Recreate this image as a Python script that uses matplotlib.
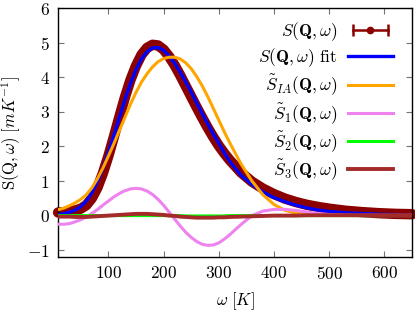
import matplotlib
matplotlib.use("Agg")
import matplotlib.pyplot as plt
from matplotlib.lines import Line2D
from matplotlib.legend_handler import HandlerLine2D, HandlerTuple

plt.rcParams['font.family'] = 'serif'
plt.rcParams['font.serif'] = ['cmr10']
plt.rcParams['mathtext.fontset'] = 'cm'
plt.rcParams['axes.formatter.use_mathtext'] = True

# energy grid [K]
omega = [9, 20, 30, 40, 50, 60, 70, 80, 90, 100, 110, 120, 130, 140, 150, 160, 170, 180, 190, 200,
         210, 220, 230, 240, 250, 260, 270, 280, 290, 300, 310, 320, 340, 360, 380, 400, 420, 440,
         460, 480, 500, 530, 560, 590, 620, 650]

# measured S(Q,w)
s_data = [0.09, 0.10, 0.12, 0.15, 0.20, 0.30, 0.50, 0.80, 1.22, 1.72, 2.28, 2.86, 3.42, 3.92, 4.33, 4.65, 4.85, 4.94, 4.92, 4.80,
          4.60, 4.35, 4.06, 3.75, 3.44, 3.13, 2.83, 2.54, 2.27, 2.02, 1.80, 1.60, 1.25, 0.98, 0.78, 0.62, 0.49, 0.39,
          0.31, 0.25, 0.20, 0.14, 0.10, 0.07, 0.05, 0.04]
s_err = [0.05, 0.05, 0.05, 0.05, 0.05, 0.05, 0.05, 0.05, 0.06, 0.06, 0.06, 0.06, 0.07, 0.07, 0.07, 0.07, 0.07, 0.07, 0.07, 0.07,
         0.07, 0.07, 0.07, 0.06, 0.06, 0.06, 0.06, 0.06, 0.06, 0.05, 0.05, 0.05, 0.05, 0.05, 0.05, 0.04, 0.04, 0.04,
         0.04, 0.04, 0.04, 0.04, 0.04, 0.04, 0.04, 0.04]

# fit
s_fit = [0.03, 0.06, 0.10, 0.16, 0.26, 0.42, 0.66, 0.98, 1.36, 1.82, 2.32, 2.84, 3.35, 3.82, 4.22, 4.53, 4.74, 4.85, 4.86, 4.78,
         4.62, 4.41, 4.15, 3.87, 3.57, 3.26, 2.95, 2.65, 2.36, 2.09, 1.81, 1.56, 1.17, 0.90, 0.68, 0.52, 0.40, 0.30,
         0.22, 0.16, 0.12, 0.08, 0.06, 0.04, 0.03, 0.02]

# impulse approximation
s_ia = [0.17, 0.22, 0.29, 0.37, 0.47, 0.60, 0.80, 1.06, 1.37, 1.72, 2.08, 2.46, 2.84, 3.22, 3.56, 3.86, 4.10, 4.30, 4.45, 4.54,
        4.58, 4.58, 4.53, 4.42, 4.25, 4.02, 3.75, 3.44, 3.10, 2.76, 2.42, 2.10, 1.50, 1.00, 0.60, 0.32, 0.15, 0.07,
        0.04, 0.02, 0.02, 0.01, 0.01, 0.01, 0.01, 0.01]

# corrections
s_1 = [-0.25, -0.25, -0.23, -0.18, -0.12, -0.04, 0.06, 0.17, 0.30, 0.42, 0.54, 0.64, 0.72, 0.77, 0.79, 0.77, 0.71, 0.61, 0.47, 0.30,
       0.10, -0.10, -0.30, -0.48, -0.63, -0.75, -0.83, -0.86, -0.85, -0.79, -0.68, -0.55, -0.26, 0.00, 0.13, 0.18, 0.18, 0.15,
       0.10, 0.06, 0.03, 0.01, 0.00, 0.00, 0.00, 0.00]
s_2 = [0.00, 0.00, 0.00, 0.00, 0.00, 0.00, 0.00, 0.00, 0.00, 0.00, 0.00, 0.00, 0.00, 0.00, 0.00, 0.00, 0.00, 0.00, 0.00, 0.00,
       0.00, 0.00, 0.00, -0.01, -0.01, -0.01, -0.01, -0.01, -0.01, -0.01, -0.01, 0.00, 0.00, 0.00, 0.00, 0.00, 0.00, 0.00,
       0.00, 0.00, 0.00, 0.00, 0.00, 0.00, 0.00, 0.00]
s_3 = [-0.03, -0.03, -0.03, -0.04, -0.04, -0.04, -0.03, -0.02, -0.01, 0.00, 0.01, 0.02, 0.03, 0.04, 0.05, 0.05, 0.05, 0.04, 0.03, 0.02,
       0.00, -0.01, -0.03, -0.04, -0.05, -0.06, -0.06, -0.06, -0.06, -0.05, -0.05, -0.04, -0.03, -0.02, -0.01, 0.00, 0.00, 0.00,
       0.01, 0.01, 0.01, 0.01, 0.01, 0.01, 0.01, 0.01]

fig = plt.figure(figsize=(4.15, 3.12), dpi=100)
ax = fig.add_axes([0.140, 0.176, 0.853, 0.798])

dred = '#8b0000'
ax.errorbar(omega, s_data, yerr=s_err, fmt='-', color=dred, lw=7.5, elinewidth=1,
            capsize=0, solid_capstyle='round', clip_on=False, zorder=2)
ax.plot(omega, s_fit, color='#0000ff', lw=2.4, zorder=3)
ax.plot(omega, s_ia, color='#ffa500', lw=2.2, zorder=4)
ax.plot(omega, s_1, color='#ee82ee', lw=2.2, zorder=4)
ax.plot(omega, s_2, color='#00ff00', lw=2.2, zorder=4)
ax.plot(omega, s_3, color='#a52a2a', lw=2.8, zorder=5)

ax.set_xlim(9, 650)
ax.set_ylim(-1.2, 6)
ax.set_xticks([100, 200, 300, 400, 500, 600])
ax.set_yticks([-1, 0, 1, 2, 3, 4, 5, 6])
ax.tick_params(direction='in', top=True, right=True, length=4, width=0.8,
               color='0.45', labelsize=12.5, pad=6)
for sp in ax.spines.values():
    sp.set_linewidth(1.0)

ax.set_xlabel(r'$\omega\ [K]$', fontsize=12, labelpad=6)
ax.set_ylabel(r'$\mathrm{S}(\mathrm{Q},\omega)\ [mK^{-1}]$', fontsize=12)
ax.yaxis.set_label_coords(-0.1, 0.5)

# legend handles
cap_line = Line2D([], [], color=dred, lw=1.8, marker='|', ms=9, mew=1.8)
dot_line = Line2D([], [], color=dred, lw=0, marker='o', ms=4.5)
handles = [(cap_line, dot_line),
           Line2D([], [], color='#0000ff', lw=2.4),
           Line2D([], [], color='#ffa500', lw=2.2),
           Line2D([], [], color='#ee82ee', lw=2.2),
           Line2D([], [], color='#00ff00', lw=2.2),
           Line2D([], [], color='#a52a2a', lw=2.8)]
labels = [r'$S(\mathbf{Q},\omega)$',
          r'$S(\mathbf{Q},\omega)$ fit',
          r'$\tilde{S}_{IA}(\mathbf{Q},\omega)$',
          r'$\tilde{S}_1(\mathbf{Q},\omega)$',
          r'$\tilde{S}_2(\mathbf{Q},\omega)$',
          r'$\tilde{S}_3(\mathbf{Q},\omega)$']
leg = ax.legend(handles, labels, loc='upper right', bbox_to_anchor=(0.98, 1.0),
                frameon=False, markerfirst=False, fontsize=12.5, handlelength=2.6,
                handletextpad=0.6, labelspacing=0.2, borderaxespad=0.3,
                handler_map={tuple: HandlerTuple(ndivide=1),
                             cap_line: HandlerLine2D(numpoints=2),
                             dot_line: HandlerLine2D(numpoints=1)})
for t in leg.get_texts():
    t.set_ha('right')

fig.savefig('out.png', dpi=100)
